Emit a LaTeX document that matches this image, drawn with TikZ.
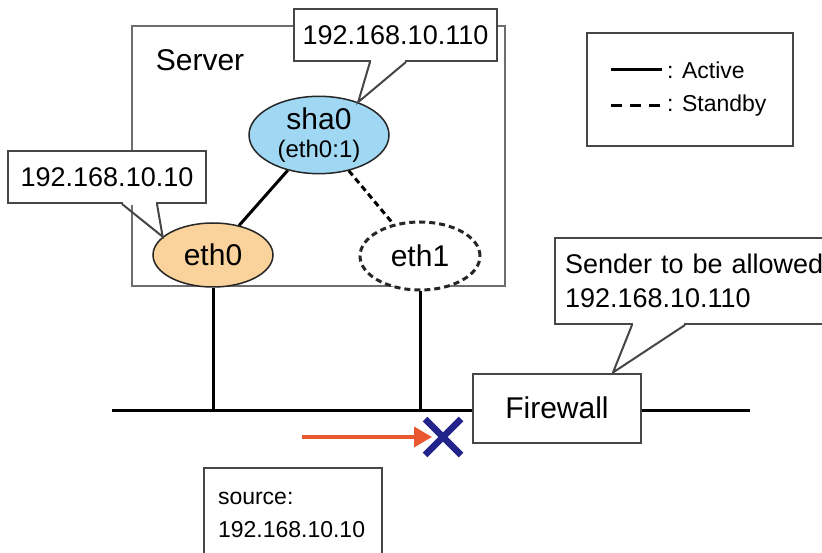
\documentclass[tikz,border=0pt]{standalone}
\usepackage{fontspec}
\setmainfont{Liberation Sans}
\usetikzlibrary{shapes.geometric, arrows.meta, positioning, calc}
\definecolor{LineGray}{RGB}{110,110,110}
\definecolor{BoxGray}{RGB}{70,70,70}
\definecolor{ShaBlue}{RGB}{160,216,244}
\definecolor{EthOrange}{RGB}{250,210,155}
\definecolor{FlowRed}{RGB}{234,88,50}
\definecolor{BlockNavy}{RGB}{35,35,140}

\tikzset{
  nic/.style={ellipse, draw=black!85, line width=1.5pt, inner sep=0pt,
              minimum width=120pt, minimum height=64pt,
              font=\fontsize{30}{33}\selectfont},
  callbox/.style={draw=BoxGray, line width=2pt, fill=white, inner sep=0pt,
                  font=\fontsize{27}{34}\selectfont},
  wire/.style={line width=3pt},
  standby/.style={line width=3pt, dash pattern=on 6pt off 4pt}
}

\begin{document}
\begin{tikzpicture}[x=1pt, y=-1pt]
  \useasboundingbox (0,0) rectangle (822,553);

  % server box
  \draw[LineGray, line width=2.5pt] (132,26) rectangle (505,286);
  \node[font=\fontsize{30}{33}\selectfont] (srvlabel) at (200,60) {Server};

  % interfaces
  \node[nic, fill=ShaBlue, minimum width=140pt, minimum height=76pt, align=center]
    (sha0) at (319,135) {sha0\\[-5pt]{\fontsize{24}{26}\selectfont (eth0:1)}};
  \node[nic, fill=EthOrange] (eth0) at (213,255) {eth0};
  \node[nic, standby, fill=white, minimum height=68pt] (eth1) at (420,256) {eth1};

  \draw[wire] (sha0) -- (eth0);
  \draw[standby] (sha0) -- (eth1);

  % network
  \coordinate (busL) at (112,410);
  \coordinate (busR) at (750,410);
  \draw[wire] (busL) -- (busR);
  \draw[wire] (eth0.south) -- (eth0.south |- busL);
  \draw[wire] (eth1.south) -- (eth1.south |- busL);
  \node[draw=BoxGray, line width=2pt, fill=white, minimum width=168pt,
        minimum height=69pt, font=\fontsize{30}{33}\selectfont]
    (fw) at (557,408) {Firewall};

  % callouts
  \node[callbox, minimum width=203pt, minimum height=52pt] (ipsha) at (395.5,35) {192.168.10.110};
  \node[callbox, minimum width=198pt, minimum height=52pt] (ipeth) at (107,177) {192.168.10.10};
  \node[callbox, anchor=north west, text width=290pt, inner xsep=10pt,
        minimum height=86pt, align=left]
    (ipfw) at (554,237) {Sender to be allowed\\192.168.10.110};
  \coordinate (fwtip) at ($(fw.north)+(56,0)$);

  \foreach \bx/\da/\db/\tip in {ipsha/77/113/sha0.40, ipeth/115/150/eth0.160, ipfw/78/131/fwtip}{
    \fill[white] ($(\bx.south west)+(\da+1,-2)$) rectangle ($(\bx.south west)+(\db-1,1.2)$);
    \draw[BoxGray, line width=2pt] ($(\bx.south west)+(\da,0)$) -- (\tip) -- ($(\bx.south west)+(\db,0)$);
  }

  % blocked packet
  \coordinate (flowA) at (302,437);
  \coordinate (flowB) at (432,437);
  \draw[FlowRed, line width=4pt, -{Triangle[length=18pt,width=20pt]}] (flowA) -- (flowB);
  \coordinate (block) at (443,437);
  \draw[BlockNavy, line width=6.5pt] ($(block)+(-18,-18)$) -- ($(block)+(18,18)$);
  \draw[BlockNavy, line width=6.5pt] ($(block)+(-18,18)$) -- ($(block)+(18,-18)$);

  % source
  \node[callbox, anchor=north west, text width=150pt, inner xsep=14pt,
        minimum height=94pt, align=left, font=\fontsize{23}{33}\selectfont]
    (src) at (203,467) {source:\\192.168.10.10};

  % legend
  \node[draw=BoxGray, line width=2pt, minimum width=206pt, minimum height=113pt]
    (legend) at (690,89.5) {};
  \coordinate (actA) at (611,70);
  \coordinate (actB) at (662,70);
  \coordinate (stbA) at (611,106);
  \coordinate (stbB) at (662,106);
  \draw[wire] (actA) -- (actB);
  \draw[line width=3pt, dash pattern=on 11pt off 8pt] (stbA) -- (stbB);
  \node[anchor=west, inner sep=0pt, font=\fontsize{23}{25}\selectfont] (actlbl) at (667,70) {: Active};
  \node[anchor=west, inner sep=0pt, font=\fontsize{23}{25}\selectfont] (stblbl) at (667,106) {: Standby};
\end{tikzpicture}
\end{document}
